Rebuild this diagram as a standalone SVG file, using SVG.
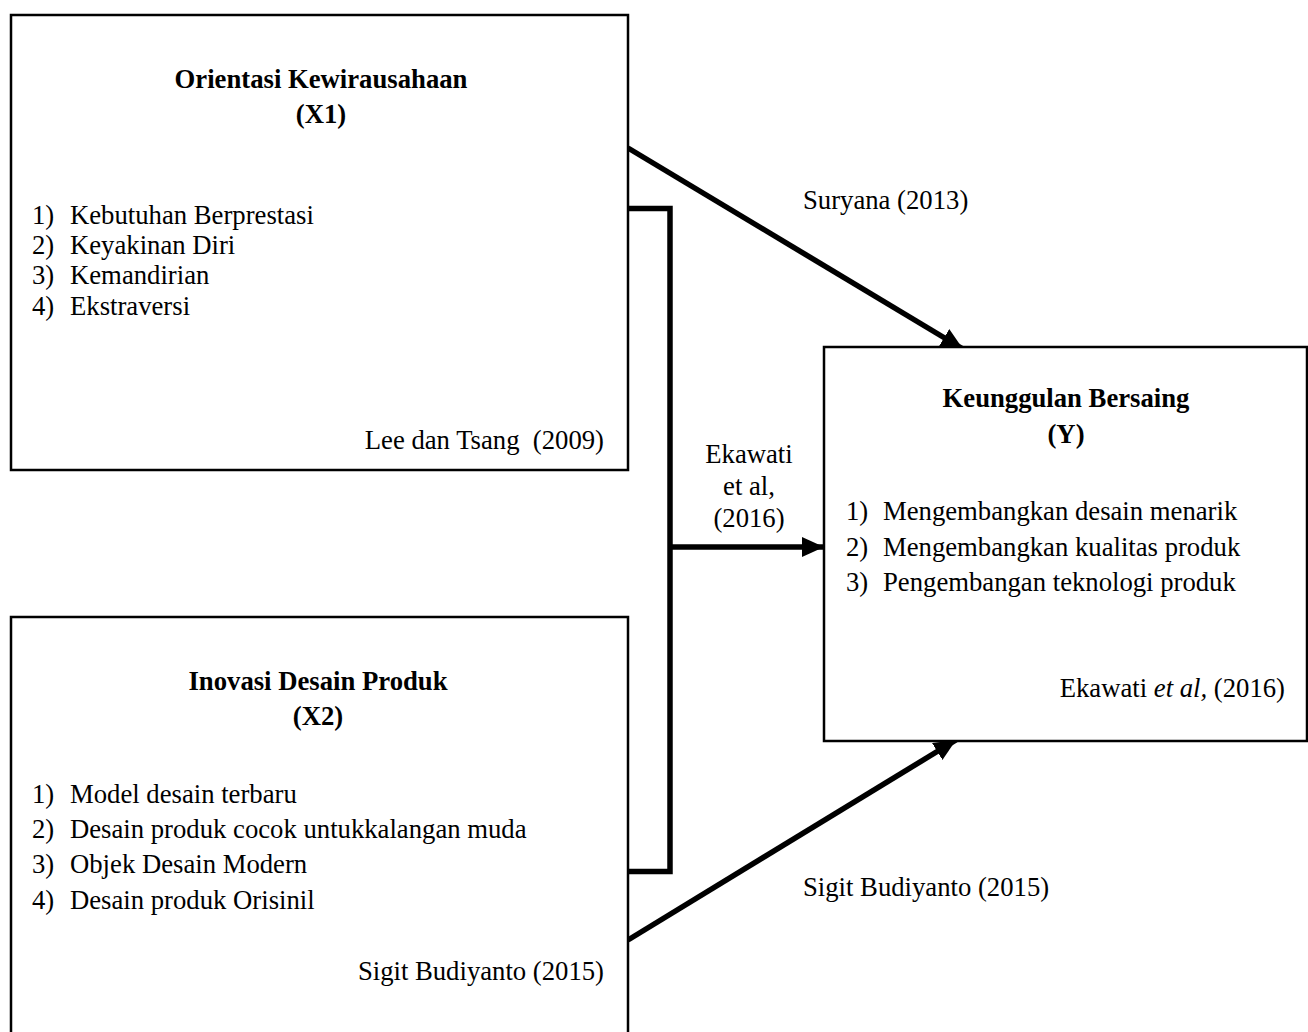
<svg xmlns="http://www.w3.org/2000/svg" width="1308" height="1032" viewBox="0 0 1308 1032">
<style>
.box{fill:#fff;stroke:#000;stroke-width:2.5}
text{font-family:"Liberation Serif","Times New Roman",serif;font-size:26.7px;fill:#000}
.t{font-weight:bold;text-anchor:middle}
.end{text-anchor:end;white-space:pre}
.mid{text-anchor:middle}
.con{fill:none;stroke:#000;stroke-width:5.5}
</style>
<defs>
<marker id="ah" markerUnits="userSpaceOnUse" markerWidth="24" markerHeight="22" refX="22" refY="10" orient="auto">
<path d="M0,0 L22,10 L0,20 Z" fill="#000"/>
</marker>
</defs>
<rect width="1308" height="1032" fill="#fff"/>
<g id="connectors">
<line class="con" x1="628" y1="148" x2="963" y2="349" marker-end="url(#ah)"/>
<polyline class="con" points="628,208.5 670,208.5 670,871.5 628,871.5"/>
<line class="con" x1="670" y1="547" x2="824" y2="547" marker-end="url(#ah)"/>
<line class="con" x1="628" y1="940" x2="956" y2="740" marker-end="url(#ah)"/>
<text x="803" y="209">Suryana (2013)</text>
<text class="mid" x="749" y="463">Ekawati</text>
<text class="mid" x="749" y="495">et al,</text>
<text class="mid" x="749" y="527">(2016)</text>
<text x="803" y="896">Sigit Budiyanto (2015)</text>
</g>
<g id="x1">
<rect class="box" x="11" y="15" width="617" height="455"/>
<text class="t" x="321" y="88">Orientasi Kewirausahaan</text>
<text class="t" x="321" y="123">(X1)</text>
<text x="32" y="224">1)</text><text x="70" y="224">Kebutuhan Berprestasi</text>
<text x="32" y="254">2)</text><text x="70" y="254">Keyakinan Diri</text>
<text x="32" y="284">3)</text><text x="70" y="284">Kemandirian</text>
<text x="32" y="315">4)</text><text x="70" y="315">Ekstraversi</text>
<text class="end" x="604" y="449">Lee dan Tsang  (2009)</text>
</g>
<g id="x2">
<rect class="box" x="11" y="617" width="617" height="430"/>
<text class="t" x="318" y="690">Inovasi Desain Produk</text>
<text class="t" x="318" y="725">(X2)</text>
<text x="32" y="803">1)</text><text x="70" y="803">Model desain terbaru</text>
<text x="32" y="838">2)</text><text x="70" y="838">Desain produk cocok untukkalangan muda</text>
<text x="32" y="873">3)</text><text x="70" y="873">Objek Desain Modern</text>
<text x="32" y="909">4)</text><text x="70" y="909">Desain produk Orisinil</text>
<text class="end" x="604" y="980">Sigit Budiyanto (2015)</text>
</g>
<g id="y">
<rect class="box" x="824" y="347" width="483" height="394"/>
<text class="t" x="1066" y="407">Keunggulan Bersaing</text>
<text class="t" x="1066" y="443">(Y)</text>
<text x="846" y="520">1)</text><text x="883" y="520">Mengembangkan desain menarik</text>
<text x="846" y="556">2)</text><text x="883" y="556">Mengembangkan kualitas produk</text>
<text x="846" y="591">3)</text><text x="883" y="591">Pengembangan teknologi produk</text>
<text class="end" x="1285" y="697">Ekawati <tspan font-style="italic">et al,</tspan> (2016)</text>
</g>
</svg>
